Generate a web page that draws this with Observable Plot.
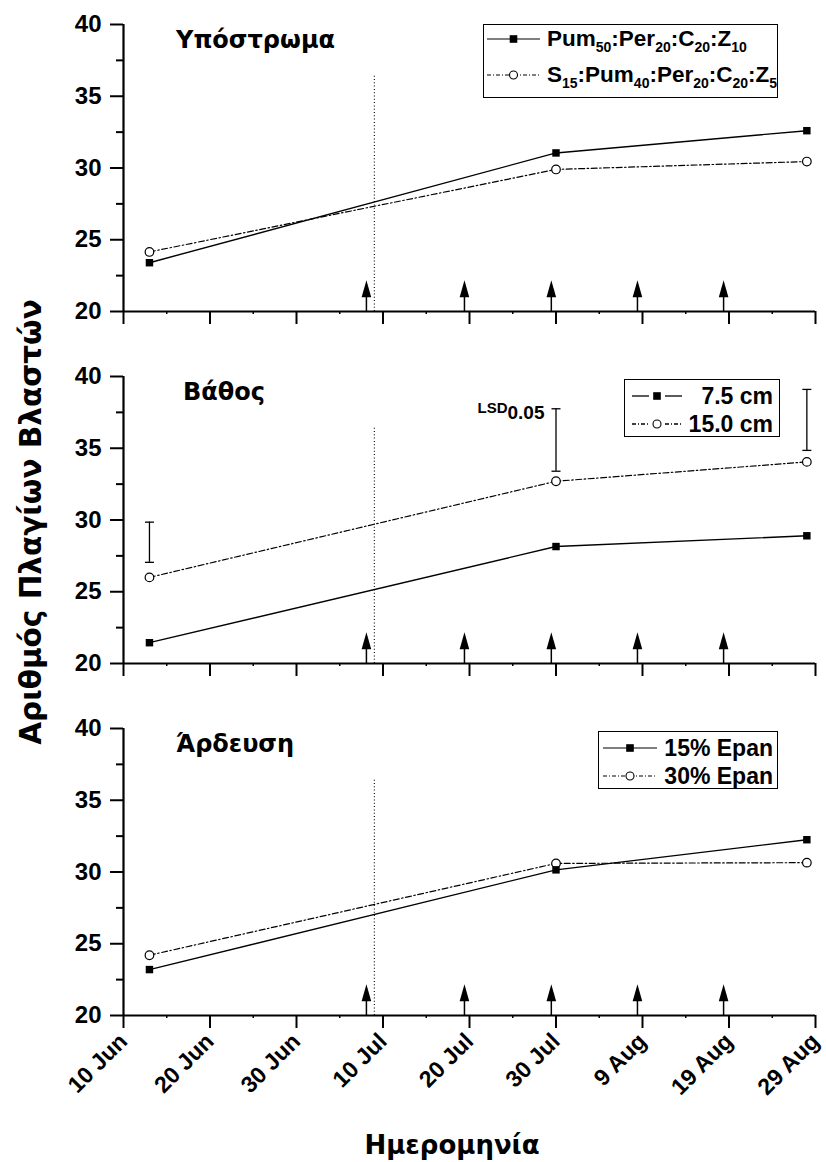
<!DOCTYPE html>
<html><head><meta charset="utf-8">
<script src="https://cdn.jsdelivr.net/npm/d3@7"></script>
<script src="https://cdn.jsdelivr.net/npm/@observablehq/plot@0.6"></script>
<style>
body{margin:0;background:#fff;}
#wrap{position:relative;width:826px;height:1162px;overflow:hidden;background:#fff;font-family:"Liberation Sans",Arial,sans-serif;font-weight:bold;color:#000;}
.panel{position:absolute;left:0;}
.title{position:absolute;font-family:"DejaVu Sans",sans-serif;font-size:24px;font-weight:bold;line-height:24px;white-space:nowrap;}
.legend{position:absolute;border:1.5px solid #000;background:#fff;box-sizing:border-box;font-size:22px;line-height:22px;}
.row{position:absolute;left:0;right:0;height:24px;white-space:nowrap;}
.row span.t{position:absolute;top:1px;}
sub{font-size:14px;vertical-align:baseline;position:relative;top:6px;line-height:0;}
.axtitle{position:absolute;font-family:"DejaVu Sans",sans-serif;font-weight:bold;font-size:26px;white-space:nowrap;}
</style></head>
<body><div id="wrap"></div>
<script>
// ---------- data ----------
const year = "2006-";
const tickDates = ["06-10","06-20","06-30","07-10","07-20","07-30","08-09","08-19","08-29"];
const minorTickDates = ["06-15","06-25","07-05","07-15","07-25","08-04","08-14","08-24"];
const yTicks = [20, 25, 30, 35, 40];
const yMinorTicks = [22.5, 27.5, 32.5, 37.5];
const sampleDates = ["06-13", "07-30", "08-28"];
const arrowDates = ["07-08T02:00", "07-19T10:00", "07-29T11:00", "08-08T10:00", "08-18T09:00"];
const arrowRange = [20, 21];          // shaft from axis to the base of the head (value units)
const dottedLineDates = ["07-09"];
const dottedLineRange = [20, 36.4];

const panelTitles = ["Υπόστρωμα", "Βάθος", "Άρδευση"];

const substrateLabels = ["Pum<sub>50</sub>:Per<sub>20</sub>:C<sub>20</sub>:Z<sub>10</sub>",
                         "S<sub>15</sub>:Pum<sub>40</sub>:Per<sub>20</sub>:C<sub>20</sub>:Z<sub>5</sub>"];
const substrateA = [23.4, 31.05, 32.6];
const substrateB = [24.15, 29.9, 30.45];

const depthLabels = ["7.5 cm", "15.0 cm"];
const depthA = [21.45, 28.15, 28.9];
const depthB = [26.0, 32.7, 34.05];
const lsdLow = [27.05, 33.4, 34.85];
const lsdHigh = [29.85, 37.75, 39.1];
const lsdLabel = ["LSD", "0.05"];

const irrigationLabels = ["15% Epan", "30% Epan"];
const irrigationA = [23.2, 30.15, 32.25];
const irrigationB = [24.2, 30.6, 30.65];

const xTitle = "Ημερομηνία";
const yTitle = "Αριθμός Πλαγίων Βλαστών";

// ---------- helpers ----------
const parse = s => d3.isoParse(year + s + (s.includes("T") ? "Z" : ""));
const fmt = d3.utcFormat("%-d %b");
const arrowHead = {draw(ctx) { ctx.moveTo(0, -17); ctx.lineTo(4.8, 0); ctx.lineTo(-4.8, 0); ctx.closePath(); }};
const capSymbol = {draw(ctx) { ctx.moveTo(-4.5, 0); ctx.lineTo(4.5, 0); }};

const wrap = document.getElementById("wrap");
const W = 826, ML = 123, MR = 11, MT = 24, PH = 287, STEP = 352;

function makePanel(idx, a, b, opts = {}) {
  const rows = sampleDates.map((d, i) => ({date: parse(d), a: a[i], b: b[i]}));
  const last = idx === 2;
  const height = last ? 1162 - idx * STEP : STEP;
  const marks = [
    Plot.ruleX(dottedLineDates.map(parse), {y1: dottedLineRange[0], y2: dottedLineRange[1], stroke: "black", strokeWidth: 1.1, strokeDasharray: "1,2.3"}),
    Plot.ruleX(arrowDates.map(parse), {y1: arrowRange[0], y2: arrowRange[1], stroke: "black", strokeWidth: 1.5}),
    Plot.dot(arrowDates.map(parse), {x: d => d, y: arrowRange[1], symbol: arrowHead, fill: "black", stroke: "none"}),
  ];
  if (opts.lsd) {
    const lsdRows = sampleDates.map((d, i) => ({date: parse(d), lo: lsdLow[i], hi: lsdHigh[i]}));
    marks.push(
      Plot.ruleX(lsdRows, {x: "date", y1: "lo", y2: "hi", stroke: "black", strokeWidth: 1.3}),
      Plot.dot(lsdRows, {x: "date", y: "lo", symbol: capSymbol, stroke: "black", strokeWidth: 1.3, fill: "none"}),
      Plot.dot(lsdRows, {x: "date", y: "hi", symbol: capSymbol, stroke: "black", strokeWidth: 1.3, fill: "none"})
    );
  }
  marks.push(
    Plot.line(rows, {x: "date", y: "b", stroke: "black", strokeWidth: 1.2, strokeDasharray: "6,2.5,1.5,2.5"}),
    Plot.line(rows, {x: "date", y: "a", stroke: "black", strokeWidth: 1.4}),
    Plot.dot(rows, {x: "date", y: "b", symbol: "circle", r: 4.3, fill: "white", stroke: "black", strokeWidth: 1.2}),
    Plot.dot(rows, {x: "date", y: "a", symbol: "square", r: 4.2, fill: "black", stroke: "none"}),
    // axes
    Plot.axisY({ticks: yTicks, tickSize: 13, tickPadding: 9, strokeWidth: 2, fontSize: 24, fontWeight: "bold", tickFormat: d => d, label: null}),
    Plot.axisY({ticks: yMinorTicks, tickSize: 7, strokeWidth: 2, tickFormat: () => "", label: null}),
    Plot.axisX({ticks: minorTickDates.map(parse), tickSize: 3, strokeWidth: 1.5, tickFormat: () => "", label: null}),
    last
      ? Plot.axisX({ticks: tickDates.map(parse), tickSize: 13, tickPadding: 9, strokeWidth: 2, tickRotate: -45, fontSize: 23, fontWeight: "bold", tickFormat: fmt, label: null})
      : Plot.axisX({ticks: tickDates.map(parse), tickSize: 13, strokeWidth: 2, tickFormat: () => "", label: null}),
    Plot.ruleY([yTicks[0]], {stroke: "black", strokeWidth: 2.2}),
    Plot.ruleX([parse(tickDates[0])], {y1: yTicks[0], y2: yTicks[yTicks.length - 1], stroke: "black", strokeWidth: 2.2})
  );
  const plot = Plot.plot({
    width: W, height,
    marginLeft: ML, marginRight: MR, marginTop: MT, marginBottom: height - MT - PH,
    x: {type: "utc", domain: [parse(tickDates[0]), parse(tickDates[tickDates.length - 1])]},
    y: {domain: [yTicks[0], yTicks[yTicks.length - 1]]},
    style: {fontFamily: "'Liberation Sans', Arial, sans-serif", fontWeight: "bold", fontSize: "24px", color: "black", background: "transparent", overflow: "visible"},
    marks
  });
  plot.classList.add("panel");
  plot.style.top = (idx * STEP) + "px";
  wrap.appendChild(plot);
  return plot;
}

// legend swatch: gap>0 breaks the line around the marker
function swatch(dashed, width, gap) {
  const cx = width / 2;
  const dash = dashed ? ` stroke-dasharray="4,2,1,2"` : "";
  const line = gap
    ? `<line x1="0" x2="${cx - gap}" y1="12" y2="12" stroke="black" stroke-width="1.3"${dash}/><line x1="${cx + gap}" x2="${width}" y1="12" y2="12" stroke="black" stroke-width="1.3"${dash}/>`
    : `<line x1="0" x2="${width}" y1="12" y2="12" stroke="black" stroke-width="1.2"${dash}/>`;
  const mark = dashed
    ? `<circle cx="${cx}" cy="12" r="4" fill="white" stroke="black" stroke-width="1.1"/>`
    : `<rect x="${cx - 3.8}" y="8.2" width="7.6" height="7.6" fill="black"/>`;
  return `<svg width="${width}" height="24">${line}${mark}</svg>`;
}

function legend(labels, o) {
  const div = document.createElement("div");
  div.className = "legend";
  Object.assign(div.style, {left: o.box[0] + "px", top: o.box[1] + "px", width: o.box[2] + "px", height: o.box[3] + "px", fontSize: o.font + "px"});
  div.innerHTML = labels.map((lab, i) => {
    const tstyle = o.right != null ? `right:${o.right}px` : `left:${o.left}px`;
    return `<div class="row" style="top:${o.rows[i]}px">
      <span style="position:absolute;left:${o.sw[0]}px;top:0">${swatch(i === 1, o.sw[1], o.gap)}</span>
      <span class="t" style="${tstyle}">${lab}</span></div>`;
  }).join("");
  wrap.appendChild(div);
}

function title(text, left, top) {
  const d = document.createElement("div");
  d.className = "title";
  d.textContent = text;
  d.style.left = left + "px"; d.style.top = top + "px";
  wrap.appendChild(d);
}

const p1 = makePanel(0, substrateA, substrateB);
const p2 = makePanel(1, depthA, depthB, {lsd: true});
const p3 = makePanel(2, irrigationA, irrigationB);

title(panelTitles[0], 176, 28);
title(panelTitles[1], 183, 380);
title(panelTitles[2], 176, 732);

legend(substrateLabels, {box: [483, 24, 295, 74], rows: [2, 38], sw: [3, 53], left: 63, font: 22.5, gap: 0});
legend(depthLabels, {box: [624, 379, 156, 58], rows: [4, 32], sw: [7, 50], right: 6, font: 23, gap: 8});
legend(irrigationLabels, {box: [598, 731, 180, 58], rows: [4, 32], sw: [4, 54], right: 4, font: 23, gap: 0});

// LSD label, positioned from panel 2's scales
{
  const sx = p2.scale("x"), sy = p2.scale("y");
  const d = document.createElement("div");
  d.style.cssText = "position:absolute;white-space:nowrap;line-height:20px;font-weight:bold;";
  d.innerHTML = `<span style="font-size:15px">${lsdLabel[0]}</span><span style="font-size:19px;position:relative;top:6px">${lsdLabel[1]}</span>`;
  d.style.right = (W - (sx.apply(parse(sampleDates[1])) - 11)) + "px";
  d.style.top = (STEP + sy.apply(lsdHigh[1]) - 11) + "px";
  wrap.appendChild(d);
}

// axis titles
{
  const xt = document.createElement("div");
  xt.className = "axtitle"; xt.textContent = xTitle;
  xt.style.left = "452px"; xt.style.top = "1145px";
  xt.style.transform = "translate(-50%,-50%)";
  wrap.appendChild(xt);
  const yt = document.createElement("div");
  yt.className = "axtitle"; yt.textContent = yTitle;
  yt.style.fontSize = "29.5px";
  yt.style.left = "31px"; yt.style.top = "522px";
  yt.style.transform = "translate(-50%,-50%) rotate(-90deg)";
  wrap.appendChild(yt);
}
</script></body></html>
